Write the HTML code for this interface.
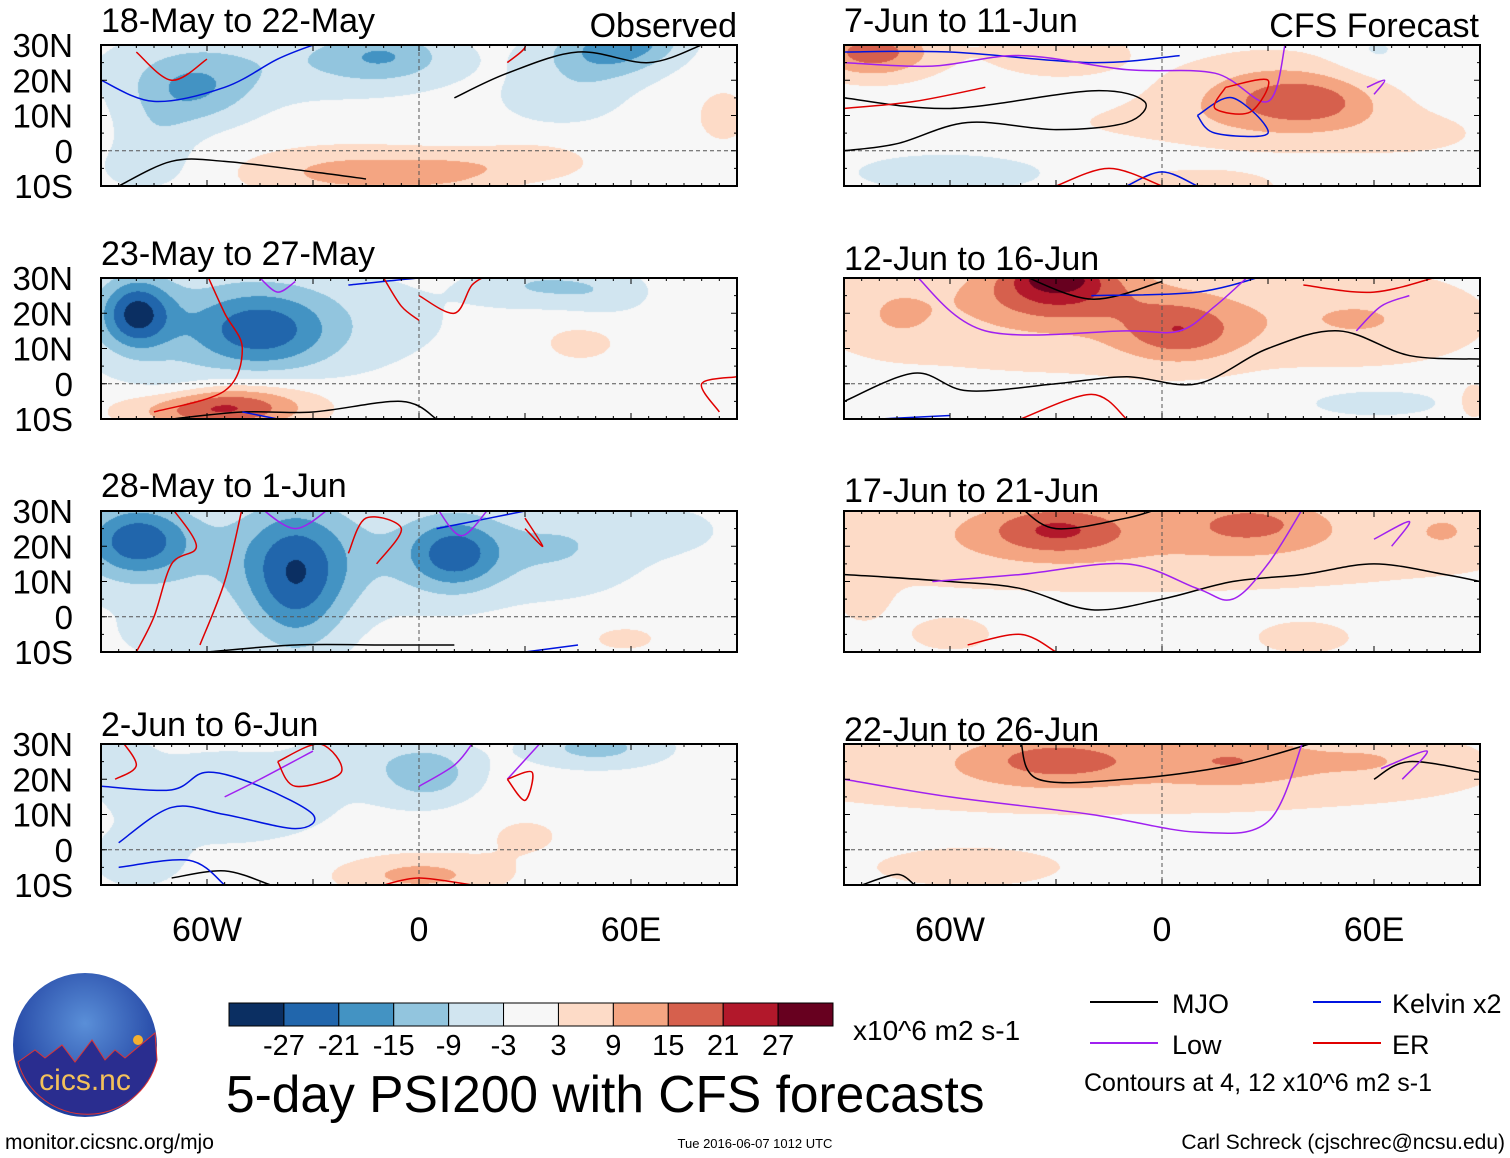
<!DOCTYPE html>
<html><head><meta charset="utf-8">
<style>
body{margin:0;background:#fff;width:1510px;height:1158px;overflow:hidden;position:relative;font-family:"Liberation Sans",sans-serif}
canvas{position:absolute}
svg{position:absolute;left:0;top:0}
</style></head>
<body>
<div id="maps"></div>
<svg id="ov" width="1510" height="1158"></svg>
<script>
// ---- data ----
const levels = [-27,-21,-15,-9,-3,3,9,15,21,27];
const levelColors = ["#0b2f62","#2166ac","#4393c3","#92c5de","#d1e5f0","#f7f7f7","#fddbc7","#f4a582","#d6604d","#b2182b","#67001f"];
const tickLabels = ["-27","-21","-15","-9","-3","3","9","15","21","27"];
const panelTitles = ["18-May to 22-May","23-May to 27-May","28-May to 1-Jun","2-Jun to 6-Jun","7-Jun to 11-Jun","12-Jun to 16-Jun","17-Jun to 21-Jun","22-Jun to 26-Jun"];
const latLabels = ["30N","20N","10N","0","10S"];
const lonLabels = ["60W","0","60E"];
// anomaly blobs per panel: [lon, lat, sigmaLon, sigmaLat, amplitude]
const blobs0 = [[-40,25,35,8,-7],[-65,17,12,7,-13],[-10,27,12,5,-11],[50,27,12,6,-13],[62,32,10,5,-12],[-20,-6,20,5,11],[8,-6,12,4,7],[32,-3,12,4,6],[86,10,5,5,7],[-78,-5,10,5,-5],[40,14,12,5,-6],[-75,5,8,6,-5]];
const blobs1 = [[-50,18,40,12,-8],[-80,20,7,7,-24],[-45,15,14,8,-18],[-60,-7,16,4,18],[-48,-5,16,5,8],[45,12,10,5,5],[33,28,12,4,-8],[52,26,10,5,-6],[-70,-2,10,5,-5]];
const blobs2 = [[-35,18,55,12,-9],[-80,22,10,7,-20],[-35,10,10,14,-20],[10,18,9,7,-19],[40,20,14,8,-6],[58,-6,8,3,5],[-70,-5,10,5,-6],[70,25,12,5,-4]];
const blobs3 = [[-55,15,25,10,-7],[2,22,10,6,-13],[50,29,14,4,-11],[-80,-3,8,5,-8],[0,-7,16,4,11],[30,4,10,5,4],[-85,25,6,5,-6],[-20,28,10,5,-4]];
const blobs4 = [[-82,28,12,5,18],[-30,28,15,5,7],[30,15,18,8,13],[45,14,12,5,9],[-60,-6,20,4,-7],[10,-10,14,3,9],[60,28,8,5,-4],[-10,8,30,6,3],[70,5,20,6,4]];
const blobs5 = [[-20,20,60,12,8],[-30,27,15,6,17],[-30,31,8,3,14],[5,15,12,6,14],[60,18,20,8,6],[60,-5,20,4,-5],[88,-5,4,4,7],[-75,20,8,6,5]];
const blobs6 = [[-10,22,80,10,9],[-30,25,14,5,14],[25,27,14,5,10],[-60,-5,10,4,5],[40,-6,12,4,5],[-85,5,6,6,4],[80,25,8,5,5]];
const blobs7 = [[-15,22,80,9,7],[-30,26,18,5,12],[20,26,15,5,9],[-55,-5,25,5,5],[60,26,15,5,5]];
const panelBlobs = [blobs0,blobs1,blobs2,blobs3,blobs4,blobs5,blobs6,blobs7];
// contour lines per panel: [type, [[lon,lat],...]]
const lines0 = [["mjo",[[-85,-10],[-70,-3],[-55,-3],[-30,-6],[-15,-8]]],["mjo",[[10,15],[25,22],[45,28],[65,25],[80,30]]],["kel",[[-90,20],[-75,14],[-55,18],[-40,26],[-30,30]]],["kel",[[60,30],[80,31]]],["er",[[-80,28],[-70,20],[-60,26]]],["er",[[25,25],[30,30],[20,32]]]];
const lines1 = [["mjo",[[-70,-10],[-50,-8],[-30,-8],[-5,-5],[5,-10]]],["kel",[[-20,28],[0,30],[15,31]]],["kel",[[-50,-8],[-40,-10]]],["pur",[[-45,30],[-40,26],[-35,29]]],["er",[[-75,-8],[-55,-2],[-50,10],[-55,20],[-60,31]]],["er",[[0,25],[10,20],[15,28],[20,31]]],["er",[[-10,30],[-5,22],[0,18]]],["er",[[90,2],[80,0],[85,-8]]]];
const lines2 = [["mjo",[[-60,-10],[-35,-8],[-10,-8],[10,-8]]],["kel",[[5,25],[20,28],[35,31]]],["kel",[[30,-10],[45,-8]]],["pur",[[-45,31],[-35,25],[-25,31]]],["pur",[[5,31],[12,23],[20,31]]],["er",[[-80,-10],[-75,0],[-70,15],[-63,20],[-70,31]]],["er",[[-62,-8],[-55,10],[-50,31]]],["er",[[-20,18],[-15,28],[-5,25],[-12,15]]],["er",[[30,28],[35,20],[30,25]]]];
const lines3 = [["mjo",[[-70,-8],[-55,-6],[-42,-10]]],["kel",[[-90,18],[-70,17],[-60,22],[-45,18],[-30,10],[-35,6],[-55,10],[-70,12],[-85,2]]],["kel",[[-85,-5],[-65,-3],[-55,-10]]],["pur",[[-55,15],[-45,20],[-30,28]]],["pur",[[0,18],[10,24],[15,30]]],["pur",[[25,20],[35,31]]],["er",[[-40,25],[-28,30],[-22,22],[-35,18],[-40,25]]],["er",[[25,20],[32,22],[30,14],[25,20]]],["er",[[-10,-10],[0,-8],[15,-10]]],["er",[[-85,32],[-80,24],[-86,20]]]];
const lines4 = [["mjo",[[-90,15],[-60,12],[-20,17],[-5,14],[-10,8],[-30,6],[-55,8],[-75,2],[-90,0]]],["kel",[[-90,28],[-60,28],[-20,25],[5,27]]],["kel",[[10,10],[20,15],[30,5],[15,5],[10,10]]],["kel",[[-10,-10],[0,-6],[10,-10]]],["pur",[[-90,25],[-65,24],[-40,27],[-10,23],[15,22],[30,14],[35,31]]],["pur",[[60,16],[63,20],[58,18]]],["er",[[-90,12],[-70,14],[-50,18]]],["er",[[-30,-10],[-15,-5],[0,-10]]],["er",[[18,18],[30,20],[25,11],[15,12],[18,18]]]];
const lines5 = [["mjo",[[-90,-5],[-70,3],[-55,-2],[-30,0],[-10,2],[10,0],[30,10],[50,15],[70,8],[90,7]]],["mjo",[[-40,31],[-20,24],[0,29]]],["kel",[[-80,-10],[-60,-9]]],["kel",[[-20,25],[10,26],[30,31]]],["pur",[[-70,31],[-50,15],[-10,15],[5,15],[15,22],[25,31]]],["pur",[[55,15],[62,22],[70,25]]],["er",[[-40,-10],[-20,-3],[-10,-10]]],["er",[[40,28],[60,26],[80,31]]]];
const lines6 = [["mjo",[[-90,12],[-60,10],[-40,8],[-20,2],[0,5],[20,10],[40,12],[60,15],[80,12],[90,10]]],["mjo",[[-40,31],[-30,25],[-10,28],[0,31]]],["pur",[[-65,10],[-40,12],[-10,15],[10,8],[20,5],[30,15],[40,31]]],["pur",[[60,22],[70,27],[65,20]]],["er",[[-55,-8],[-40,-5],[-30,-10]]]];
const lines7 = [["mjo",[[-40,31],[-35,20],[-10,20],[20,24],[45,31]]],["mjo",[[60,20],[70,25],[90,22]]],["pur",[[-90,20],[-60,15],[-20,10],[10,5],[30,8],[40,31]]],["pur",[[62,23],[75,28],[68,20]]],["mjo",[[-85,-10],[-75,-7],[-70,-10]]]];
const panelLines = [lines0,lines1,lines2,lines3,lines4,lines5,lines6,lines7];

// ---- layout ----
const colX = [101,844], W = 636, rowY = [45,278,511,744], H = 141;
const NS="http://www.w3.org/2000/svg";
const ov = document.getElementById('ov');
function lonX(px, lon){return px + (lon+90)/180*W;}
function latY(py, lat){return py + (30-lat)/40*H;}
function colorFor(v){let i=0;while(i<levels.length && v>levels[i]) i++;return levelColors[i];}
function mk(tag, attrs, parent){const e=document.createElementNS(NS,tag);for(const k in attrs)e.setAttribute(k,attrs[k]);(parent||ov).appendChild(e);return e;}
function txt(x,y,s,size,anchor,name){const t=mk('text',{x:x,y:y,'font-size':size,'text-anchor':anchor||'start','font-family':'Liberation Sans, sans-serif',fill:'#000'});t.textContent=s;


return t;}
const strokeCol = {mjo:"#000",kel:"#0014e0",pur:"#a020f0",er:"#e00000"};

for(let p=0;p<8;p++){
  const col = p<4?0:1, row=p%4, px=colX[col], py=rowY[row];
  const cv=document.createElement('canvas');cv.width=W;cv.height=H;cv.style.left=px+'px';cv.style.top=py+'px';
  
  
  document.getElementById('maps').appendChild(cv);
  const ctx=cv.getContext('2d');const img=ctx.createImageData(W,H);
  const bl=panelBlobs[p];
  for(let y=0;y<H;y++){const lat=30-y/H*40;for(let x=0;x<W;x++){const lon=-90+x/W*180;let v=0;
    for(const b of bl){const dx=(lon-b[0])/b[2],dy=(lat-b[1])/b[3];v+=b[4]*Math.exp(-0.5*(dx*dx+dy*dy));}
    const c=colorFor(v);const i=(y*W+x)*4;
    img.data[i]=parseInt(c.substr(1,2),16);img.data[i+1]=parseInt(c.substr(3,2),16);img.data[i+2]=parseInt(c.substr(5,2),16);img.data[i+3]=255;}}
  ctx.putImageData(img,0,0);
  const g=mk('g',{});
  
  
  const cp=mk('clipPath',{id:'cp'+p},g);
  mk('rect',{x:px,y:py,width:W,height:H},cp);
  const lg=mk('g',{'clip-path':'url(#cp'+p+')'},g);
  mk('line',{x1:px,x2:px+W,y1:latY(py,0),y2:latY(py,0),stroke:'#555','stroke-dasharray':'4,3','stroke-width':1},lg);
  mk('line',{x1:lonX(px,0),x2:lonX(px,0),y1:py,y2:py+H,stroke:'#555','stroke-dasharray':'4,3','stroke-width':1},lg);
  for(const L of panelLines[p]){
    const pts=L[1].map(q=>[lonX(px,q[0]),latY(py,q[1])]);
    let d='M'+pts[0][0]+','+pts[0][1];
    for(let i=0;i<pts.length-1;i++){const p0=pts[i-1]||pts[i],p1=pts[i],p2=pts[i+1],p3=pts[i+2]||p2;
      d+=' C'+(p1[0]+(p2[0]-p0[0])/6)+','+(p1[1]+(p2[1]-p0[1])/6)+' '+(p2[0]-(p3[0]-p1[0])/6)+','+(p2[1]-(p3[1]-p1[1])/6)+' '+p2[0]+','+p2[1];}
    const e=mk('path',{d:d,fill:'none',stroke:strokeCol[L[0]],'stroke-width':1.5},lg);
    
    
  }
  mk('rect',{x:px,y:py,width:W,height:H,fill:'none',stroke:'#000','stroke-width':2},g);
  for(let lon=-90;lon<=90;lon+=5){const x=lonX(px,lon),len=lon%30===0?6:3;
    mk('line',{x1:x,x2:x,y1:py,y2:py+len,stroke:'#000'},g);mk('line',{x1:x,x2:x,y1:py+H,y2:py+H-len,stroke:'#000'},g);}
  for(let lat=-10;lat<=30;lat+=5){const y=latY(py,lat),len=lat%10===0?6:3;
    mk('line',{x1:px,x2:px+len,y1:y,y2:y,stroke:'#000'},g);mk('line',{x1:px+W,x2:px+W-len,y1:y,y2:y,stroke:'#000'},g);}
  const ty=[32,265,497,736][row]+(col===1&&row>0?5:0);
  txt(px,ty,panelTitles[p],34,'start','panel-title');
  if(col===0){latLabels.forEach((s,i)=>txt(73,py+i*H/4+12,s,33,'end','lat-label'));}
  if(row===3){lonLabels.forEach((s,i)=>txt(lonX(px,-60+60*i),941,s,34,'middle','lon-label'));}
}
txt(737,37,'Observed',34,'end','observed-label');
txt(1479,37,'CFS Forecast',34,'end','forecast-label');

// colorbar
const cb=mk('g',{});


const cbx=229,cbw=604/11;
levelColors.forEach((c,i)=>{const r=mk('rect',{x:cbx+i*cbw,y:1003,width:cbw,height:23,fill:c,stroke:'#000','stroke-width':1},cb);

});
tickLabels.forEach((s,i)=>txt(cbx+(i+1)*cbw,1055,s,29,'middle','colorbar-tick'));
txt(853,1040,'x10^6 m2 s-1',28,'start','colorbar-units');
txt(226,1112,'5-day PSI200 with CFS forecasts',51.5,'start','chart-title');
// legend
[['mjo',1090,1002,'MJO',1172],['kel',1313,1002,'Kelvin x2',1392],['pur',1090,1043,'Low',1172],['er',1313,1043,'ER',1392]].forEach(l=>{
  const e=mk('line',{x1:l[1],x2:l[1]+68,y1:l[2],y2:l[2],stroke:strokeCol[l[0]],'stroke-width':2});
  
  
  txt(l[4],l[2]+11,l[3],27,'start','legend-label');});
txt(1084,1091,'Contours at 4, 12 x10^6 m2 s-1',25,'start','contour-note');
txt(5,1149,'monitor.cicsnc.org/mjo',21,'start','source-url');
txt(755,1148,'Tue 2016-06-07 1012 UTC',13,'middle','timestamp');
txt(1505,1149,'Carl Schreck (cjschrec@ncsu.edu)',21,'end','author');
// logo
const lgo=mk('g',{});


mk('defs',{},lgo).innerHTML='<radialGradient id="lgr" cx="0.5" cy="0.35" r="0.6"><stop offset="0" stop-color="#5a8fd8"/><stop offset="1" stop-color="#1f3f9f"/></radialGradient>';
mk('circle',{cx:85,cy:1045,r:72,fill:'url(#lgr)'},lgo);
mk('path',{d:'M18,1062 L35,1050 L45,1058 L62,1045 L75,1062 L92,1040 L105,1060 L115,1050 L125,1058 L155,1033 L157,1060 A72,72 0 0 1 18,1062Z',fill:'#2a2d8f',stroke:'#d33','stroke-width':1},lgo);
mk('circle',{cx:138,cy:1040,r:5,fill:'#f5b030'},lgo);
const lt=txt(85,1090,'cics.nc',30,'middle','logo-text');lt.setAttribute('fill','#f3c15a');
</script>
</body></html>
